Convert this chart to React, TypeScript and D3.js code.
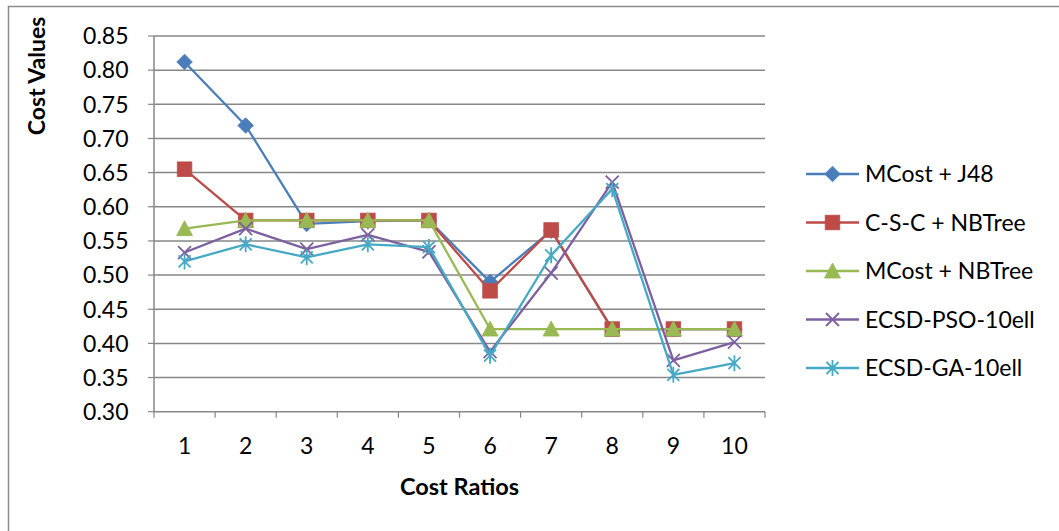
import React from "react";
import * as d3 from "d3";

// Cost ratio categories on the x axis
const costRatios = ["1", "2", "3", "4", "5", "6", "7", "8", "9", "10"];

// Cost values per method
const mcostJ48 = [0.812, 0.719, 0.575, 0.579, 0.580, 0.490, 0.565, 0.421, 0.421, 0.421];
const cscNBTree = [0.655, 0.580, 0.580, 0.580, 0.580, 0.477, 0.566, 0.421, 0.421, 0.421];
const mcostNBTree = [0.568, 0.580, 0.580, 0.580, 0.580, 0.421, 0.421, 0.421, 0.421, 0.421];
const ecsdPso = [0.533, 0.568, 0.538, 0.559, 0.534, 0.388, 0.503, 0.636, 0.375, 0.402];
const ecsdGa = [0.520, 0.545, 0.526, 0.545, 0.541, 0.382, 0.529, 0.626, 0.354, 0.371];

const yTicks = [0.3, 0.35, 0.4, 0.45, 0.5, 0.55, 0.6, 0.65, 0.7, 0.75, 0.8, 0.85];

type MarkerKind = "diamond" | "square" | "triangle" | "cross" | "star";

const series: { name: string; values: number[]; color: string; marker: MarkerKind }[] = [
  { name: "MCost + J48", values: mcostJ48, color: "#4a7ebb", marker: "diamond" },
  { name: "C-S-C + NBTree", values: cscNBTree, color: "#be4b48", marker: "square" },
  { name: "MCost + NBTree", values: mcostNBTree, color: "#98b954", marker: "triangle" },
  { name: "ECSD-PSO-10ell", values: ecsdPso, color: "#7d60a0", marker: "cross" },
  { name: "ECSD-GA-10ell", values: ecsdGa, color: "#46aac5", marker: "star" },
];

const FONT = "Lato, Carlito, 'Liberation Sans', sans-serif";

function Marker({ kind, x, y, color }: { kind: MarkerKind; x: number; y: number; color: string }) {
  const t = `translate(${x},${y})`;
  switch (kind) {
    case "diamond":
      return <path transform={t} d="M0,-7.8L7.8,0L0,7.8L-7.8,0Z" fill={color} stroke={color} strokeWidth={0.8} />;
    case "square":
      return <rect transform={t} x={-7.3} y={-7.3} width={14.6} height={14.6} fill={color} stroke="#b9504d" strokeWidth={0.8} />;
    case "triangle":
      return <path transform={t} d="M0,-8L8,7L-8,7Z" fill={color} stroke={color} strokeWidth={0.8} />;
    case "cross":
      return <path transform={t} d="M-6.5,-6.5L6.5,6.5M-6.5,6.5L6.5,-6.5" stroke={color} strokeWidth={1.8} fill="none" />;
    case "star":
      return <path transform={t} d="M-6,-6L6,6M-6,6L6,-6M0,-8L0,8" stroke={color} strokeWidth={1.8} fill="none" />;
  }
}

export default function App() {
  const width = 1059;
  const height = 531;
  const left = 154;
  const right = 765;
  const top = 36;
  const bottom = 411.7;

  const x = d3.scaleBand<string>().domain(costRatios).range([left, right]).padding(0);
  const y = d3.scaleLinear().domain([0.3, 0.85]).range([bottom, top]);
  const cx = (c: string) => (x(c) as number) + x.bandwidth() / 2;

  const line = d3
    .line<number>()
    .x((_, i) => cx(costRatios[i]))
    .y((v) => y(v));

  const gridColor = "#878787";
  const legendX = 806;
  const legendY0 = 174;
  const legendStep = 48.5;

  return (
    <svg
      width={width}
      height={height}
      style={{ position: "absolute", left: 0, top: 0, background: "#ffffff" }}
      fontFamily={FONT}
    >
      {/* outer chart frame */}
      <line x1={8.5} y1={6} x2={8.5} y2={height} stroke="#8c8c8c" strokeWidth={1.5} />
      <line x1={8} y1={6.5} x2={width} y2={6.5} stroke="#8c8c8c" strokeWidth={1.5} />

      {/* horizontal gridlines and y ticks */}
      {yTicks.map((t) => (
        <g key={t}>
          {t > 0.3 && (
            <line x1={left} x2={right} y1={y(t)} y2={y(t)} stroke={gridColor} strokeWidth={1.5} />
          )}
          <line x1={left - 6} x2={left} y1={y(t)} y2={y(t)} stroke={gridColor} strokeWidth={1.2} />
          <text x={128.5} y={y(t)} dy="0.36em" textAnchor="end" fontSize={23} fill="#000">
            {t.toFixed(2)}
          </text>
        </g>
      ))}

      {/* axes */}
      <line x1={left} x2={left} y1={top} y2={bottom} stroke={gridColor} strokeWidth={1.5} />
      <line x1={left} x2={right} y1={bottom} y2={bottom} stroke={gridColor} strokeWidth={1.5} />
      {[...costRatios.map((c) => x(c) as number), right].map((bx, i) => (
        <line key={i} x1={bx} x2={bx} y1={bottom} y2={bottom + 6} stroke={gridColor} strokeWidth={1.2} />
      ))}
      {costRatios.map((c) => (
        <text key={c} x={cx(c)} y={454} textAnchor="middle" fontSize={23} fill="#000">
          {c}
        </text>
      ))}

      {/* axis titles */}
      <text x={459.5} y={495} textAnchor="middle" fontSize={23.5} fontWeight="bold" fill="#000">
        Cost Ratios
      </text>
      <text
        transform={`translate(45,76) rotate(-90)`}
        textAnchor="middle"
        fontSize={23}
        fontWeight="bold"
        fill="#000"
      >
        Cost Values
      </text>

      {/* series lines and markers */}
      {series.map((s) => (
        <g key={s.name}>
          <path d={line(s.values) as string} fill="none" stroke={s.color} strokeWidth={2.3} strokeLinejoin="round" />
          {s.values.map((v, i) => (
            <Marker key={i} kind={s.marker} x={cx(costRatios[i])} y={y(v)} color={s.color} />
          ))}
        </g>
      ))}

      {/* legend */}
      {series.map((s, i) => {
        const ly = legendY0 + i * legendStep;
        return (
          <g key={s.name}>
            <line x1={legendX} x2={legendX + 53} y1={ly} y2={ly} stroke={s.color} strokeWidth={2.3} />
            <Marker kind={s.marker} x={legendX + 26.5} y={ly} color={s.color} />
            <text x={legendX + 59} y={ly} dy="0.36em" fontSize={23} fill="#000">
              {s.name}
            </text>
          </g>
        );
      })}
    </svg>
  );
}
